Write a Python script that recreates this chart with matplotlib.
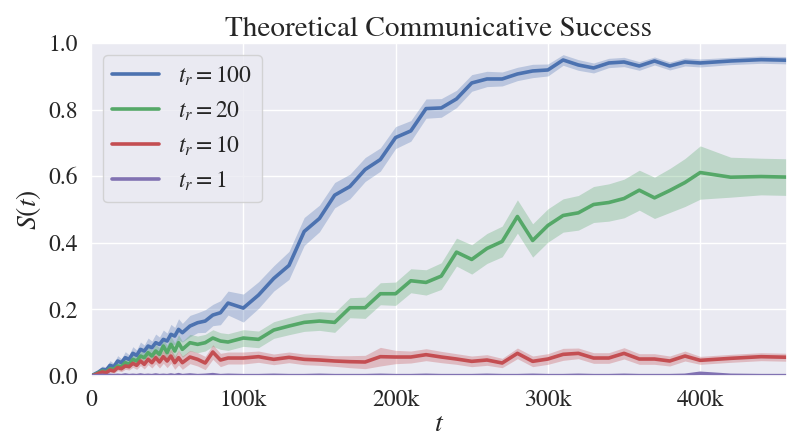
import numpy as np
import matplotlib
matplotlib.use('Agg')
import matplotlib.pyplot as plt
import seaborn as sns
from matplotlib.ticker import FuncFormatter

# time steps (k)
t_k = [0, 2.5, 5, 7.5, 10, 12.5, 15, 17.5, 20, 22.5, 25, 27.5, 30, 32.5, 35, 37.5,
       40, 42.5, 45, 47.5, 50, 52.5, 55, 57.5, 60, 65, 70, 75, 80, 85, 90,
       100, 110, 120, 130, 140, 150, 160, 170, 180, 190, 200, 210, 220, 230, 240,
       250, 260, 270, 280, 290, 300, 310, 320, 330, 340, 350, 360, 370, 380, 390,
       400, 420, 440, 460]

s100 = [0, 0.006, 0.012, 0.02, 0.018, 0.032, 0.028, 0.045, 0.04, 0.055, 0.05, 0.068,
        0.062, 0.08, 0.075, 0.09, 0.085, 0.1, 0.095, 0.11, 0.105, 0.125, 0.12, 0.14,
        0.13, 0.15, 0.16, 0.165, 0.183, 0.19, 0.219,
        0.204, 0.243, 0.293, 0.332, 0.434, 0.473, 0.543, 0.569, 0.62, 0.65, 0.716,
        0.736, 0.803, 0.805, 0.832, 0.88, 0.892, 0.892, 0.907, 0.916, 0.919, 0.949,
        0.934, 0.925, 0.94, 0.943, 0.931, 0.946, 0.931, 0.943, 0.94, 0.946, 0.95, 0.948]
e100 = [0, 0.004, 0.006, 0.01, 0.008, 0.014, 0.01, 0.016, 0.012, 0.018, 0.014, 0.02,
        0.016, 0.022, 0.018, 0.024, 0.02, 0.026, 0.022, 0.028, 0.024, 0.03, 0.026, 0.032,
        0.028, 0.032, 0.03, 0.034, 0.032, 0.036, 0.036,
        0.042, 0.04, 0.038, 0.042, 0.042, 0.04, 0.038, 0.037, 0.036, 0.035, 0.033,
        0.031, 0.029, 0.028, 0.026, 0.025, 0.023, 0.021, 0.02, 0.02, 0.018, 0.016,
        0.016, 0.015, 0.014, 0.014, 0.013, 0.012, 0.012, 0.012, 0.012, 0.011, 0.011, 0.011]

s20 = [0, 0.004, 0.01, 0.015, 0.012, 0.022, 0.02, 0.03, 0.028, 0.04, 0.035, 0.05,
       0.045, 0.06, 0.055, 0.07, 0.06, 0.075, 0.065, 0.09, 0.07, 0.095, 0.075, 0.1,
       0.08, 0.1, 0.095, 0.1, 0.114, 0.105, 0.102,
       0.114, 0.11, 0.138, 0.15, 0.161, 0.165, 0.161, 0.205, 0.205, 0.247, 0.247,
       0.286, 0.281, 0.3, 0.372, 0.35, 0.383, 0.404, 0.479, 0.407, 0.452, 0.482,
       0.49, 0.515, 0.521, 0.533, 0.558, 0.535, 0.557, 0.581, 0.611, 0.597, 0.599, 0.597]
e20 = [0, 0.003, 0.005, 0.006, 0.006, 0.008, 0.008, 0.01, 0.01, 0.012, 0.012, 0.014,
       0.014, 0.016, 0.016, 0.018, 0.018, 0.02, 0.02, 0.022, 0.022, 0.024, 0.024, 0.024,
       0.024, 0.025, 0.025, 0.025, 0.025, 0.025, 0.025,
       0.025, 0.025, 0.025, 0.026, 0.027, 0.028, 0.03, 0.03, 0.032, 0.033, 0.035,
       0.036, 0.038, 0.04, 0.042, 0.044, 0.045, 0.046, 0.05, 0.05, 0.05, 0.05,
       0.052, 0.054, 0.056, 0.058, 0.06, 0.062, 0.066, 0.072, 0.08, 0.06, 0.055, 0.055]

s10 = [0, 0.003, 0.008, 0.012, 0.01, 0.018, 0.015, 0.025, 0.022, 0.03, 0.028, 0.038,
       0.032, 0.045, 0.035, 0.05, 0.04, 0.055, 0.042, 0.058, 0.045, 0.06, 0.04, 0.055,
       0.04, 0.057, 0.05, 0.039, 0.072, 0.048, 0.054,
       0.054, 0.058, 0.05, 0.056, 0.05, 0.048, 0.045, 0.043, 0.042, 0.058, 0.057,
       0.057, 0.064, 0.057, 0.051, 0.044, 0.048, 0.039, 0.068, 0.044, 0.051, 0.065,
       0.068, 0.054, 0.054, 0.068, 0.051, 0.051, 0.045, 0.06, 0.047, 0.053, 0.058, 0.056]
e10 = [0, 0.002, 0.004, 0.005, 0.005, 0.007, 0.007, 0.009, 0.009, 0.01, 0.01, 0.012,
       0.012, 0.014, 0.014, 0.016, 0.016, 0.018, 0.018, 0.02, 0.02, 0.022, 0.02, 0.022,
       0.02, 0.02, 0.02, 0.02, 0.022, 0.02, 0.018,
       0.018, 0.017, 0.016, 0.016, 0.016, 0.016, 0.016, 0.018, 0.02, 0.028, 0.02,
       0.018, 0.018, 0.017, 0.016, 0.016, 0.016, 0.014, 0.016, 0.016, 0.016, 0.018,
       0.016, 0.016, 0.016, 0.017, 0.016, 0.016, 0.015, 0.015, 0.012, 0.012, 0.012, 0.012]

s1 = [0, 0.001, 0.001, 0.002, 0.001, 0.002, 0.001, 0.002, 0.001, 0.003, 0.001, 0.002,
      0.001, 0.003, 0.001, 0.002, 0.001, 0.003, 0.001, 0.002, 0.001, 0.003, 0.001, 0.004,
      0.001, 0.003, 0.001, 0.002, 0.004, 0.001, 0.002,
      0.001, 0.001, 0.002, 0.001, 0.001, 0.002, 0.001, 0.001, 0.001, 0.002, 0.001,
      0.001, 0.002, 0.001, 0.001, 0.001, 0.002, 0.001, 0.001, 0.002, 0.001, 0.001,
      0.002, 0.001, 0.001, 0.002, 0.001, 0.001, 0.001, 0.002, 0.008, 0.002, 0.001, 0.001]
e1 = [0.001] * len(t_k)

labels = ['$t_r=100$', '$t_r=20$', '$t_r=10$', '$t_r=1$']
colors = ['#4C72B0', '#55A868', '#C44E52', '#8172B2']

sns.set_theme(style='darkgrid')
plt.rcParams['font.family'] = ['STIXGeneral', 'Liberation Serif', 'DejaVu Serif']
plt.rcParams['mathtext.fontset'] = 'stix'

fig = plt.figure(figsize=(7.87, 4.37), dpi=100)
ax = fig.add_axes([0.1156, 0.1396, 0.8844, 0.762])

x = np.array(t_k) * 1000
for s, e, lab, c in zip([s100, s20, s10, s1], [e100, e20, e10, e1], labels, colors):
    s = np.array(s)
    e = np.array(e)
    ax.fill_between(x, np.clip(s - e, 0, None), s + e, color=c, alpha=0.3, linewidth=0)
    ax.plot(x, s, color=c, linewidth=2.6, label=lab)

ax.set_xlim(0, 457000)
ax.set_ylim(0, 1.0)
ax.xaxis.set_major_formatter(FuncFormatter(lambda v, p: '0' if v == 0 else '%dk' % (v / 1000)))
ax.tick_params(axis='both', which='major', labelsize=17)
ax.set_xlabel('$t$', fontsize=20, labelpad=1)
ax.set_ylabel('$S(t)$', fontsize=20)
ax.set_title('Theoretical Communicative Success', fontsize=21, pad=5)
ax.legend(loc='upper left', fontsize=17)

plt.savefig('out.png', dpi=100)
plt.close()
